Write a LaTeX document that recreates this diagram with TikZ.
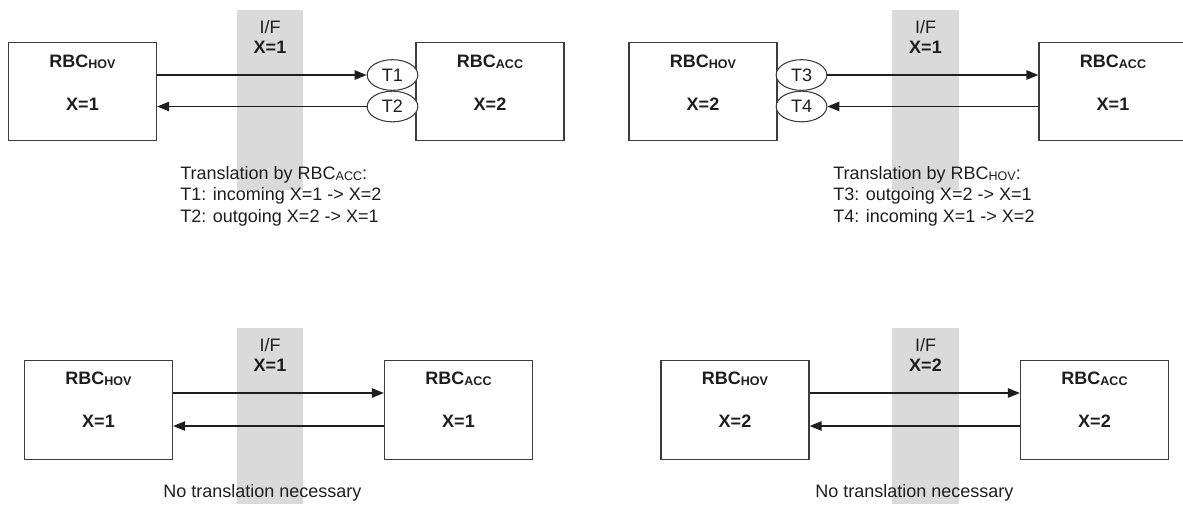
\documentclass[tikz,border=0pt]{standalone}
\usepackage{fontspec}
\setmainfont{Liberation Sans}
\usetikzlibrary{shapes.geometric,arrows.meta}
\definecolor{stripg}{RGB}{218,218,218}
\definecolor{inkc}{RGB}{30,30,30}
\definecolor{linec}{RGB}{60,60,60}
\newcommand{\lowsub}[1]{\raisebox{-1.4pt}{\fontsize{9.4pt}{10pt}\selectfont #1}}
\begin{document}
\begin{tikzpicture}[x=0.75pt,y=-0.75pt,
  every node/.style={font=\fontsize{13.5pt}{16pt}\selectfont, text=inkc, inner sep=0pt},
  rbcbox/.style={draw=linec, line width=0.9pt, fill=white, minimum width=111pt, minimum height=74pt},
  tbub/.style={ellipse, draw=linec, line width=0.8pt, fill=white, minimum width=38pt, minimum height=23pt},
  lbl/.style={anchor=base, font=\fontsize{13.5pt}{16pt}\selectfont\bfseries},
  txt/.style={anchor=base west},
  ctxt/.style={anchor=base},
  arr/.style={draw=inkc, line width=1.1pt, -{Triangle[length=9pt,width=7pt]}}
]
\useasboundingbox (0,0) rectangle (1183,504);
\begin{scope}
\clip (0,0) rectangle (1183,504);
% interface strips
\fill[stripg] (237,10) rectangle (303,190);
\fill[stripg] (892,10) rectangle (959,190);
\fill[stripg] (237,328) rectangle (303,504);
\fill[stripg] (892,328) rectangle (959,504);

% ---------- top-left panel ----------
\node[ctxt] (if1) at (270,33) {I/F};
\node[lbl] (ifx1) at (270,53) {X=1};
\node[rbcbox] (hov1) at (82.5,91.5) {};
\node[rbcbox] (acc1) at (490,91.5) {};
\node[lbl] (hov1n) at (82.5,67) {RBC\lowsub{HOV}};
\node[lbl] (hov1x) at (82.5,110) {X=1};
\node[lbl] (acc1n) at (490,67) {RBC\lowsub{ACC}};
\node[lbl] (acc1x) at (490,110) {X=2};
\node[tbub] (t1) at (392.5,75) {T1};
\node[tbub] (t2) at (392.5,106.5) {T2};
\draw[arr] (hov1.east |- t1) -- (t1.west);
\draw[arr] (t2.west) -- (hov1.east |- t2);
\node[txt] (d1a) at (180,179) {Translation by RBC\lowsub{ACC}:};
\node[txt] (d1b) at (180,200.5) {T1: incoming X=1 -> X=2};
\node[txt] (d1c) at (180,222) {T2: outgoing X=2 -> X=1};

% ---------- top-right panel ----------
\node[ctxt] (if2) at (925.5,33) {I/F};
\node[lbl] (ifx2) at (925.5,53) {X=1};
\node[rbcbox] (hov2) at (703,91.5) {};
\node[rbcbox] (acc2) at (1113,91.5) {};
\node[lbl] (hov2n) at (703,67) {RBC\lowsub{HOV}};
\node[lbl] (hov2x) at (703,110) {X=2};
\node[lbl] (acc2n) at (1113,67) {RBC\lowsub{ACC}};
\node[lbl] (acc2x) at (1113,110) {X=1};
\node[tbub] (t3) at (801.5,75) {T3};
\node[tbub] (t4) at (801.5,106.5) {T4};
\draw[arr] (t3.east) -- (acc2.west |- t3);
\draw[arr] (acc2.west |- t4) -- (t4.east);
\node[txt] (d2a) at (833,179) {Translation by RBC\lowsub{HOV}:};
\node[txt] (d2b) at (833,200.5) {T3: outgoing X=2 -> X=1};
\node[txt] (d2c) at (833,222) {T4: incoming X=1 -> X=2};

% ---------- bottom-left panel ----------
\coordinate (r3a) at (0,393);
\coordinate (r3b) at (0,426);
\node[ctxt] (if3) at (270,351) {I/F};
\node[lbl] (ifx3) at (270,371) {X=1};
\node[rbcbox] (hov3) at (98.5,410) {};
\node[rbcbox] (acc3) at (458.5,410) {};
\node[lbl] (hov3n) at (98.5,384) {RBC\lowsub{HOV}};
\node[lbl] (hov3x) at (98.5,427) {X=1};
\node[lbl] (acc3n) at (458.5,384) {RBC\lowsub{ACC}};
\node[lbl] (acc3x) at (458.5,427) {X=1};
\draw[arr] (hov3.east |- r3a) -- (acc3.west |- r3a);
\draw[arr] (acc3.west |- r3b) -- (hov3.east |- r3b);
\node[txt] (d3) at (163,497) {No translation necessary};

% ---------- bottom-right panel ----------
\node[ctxt] (if4) at (925.5,351) {I/F};
\node[lbl] (ifx4) at (925.5,371) {X=2};
\node[rbcbox] (hov4) at (735,410) {};
\node[rbcbox] (acc4) at (1094.5,410) {};
\node[lbl] (hov4n) at (735,384) {RBC\lowsub{HOV}};
\node[lbl] (hov4x) at (735,427) {X=2};
\node[lbl] (acc4n) at (1094.5,384) {RBC\lowsub{ACC}};
\node[lbl] (acc4x) at (1094.5,427) {X=2};
\draw[arr] (hov4.east |- r3a) -- (acc4.west |- r3a);
\draw[arr] (acc4.west |- r3b) -- (hov4.east |- r3b);
\node[txt] (d4) at (815,497) {No translation necessary};
\end{scope}
\end{tikzpicture}
\end{document}
